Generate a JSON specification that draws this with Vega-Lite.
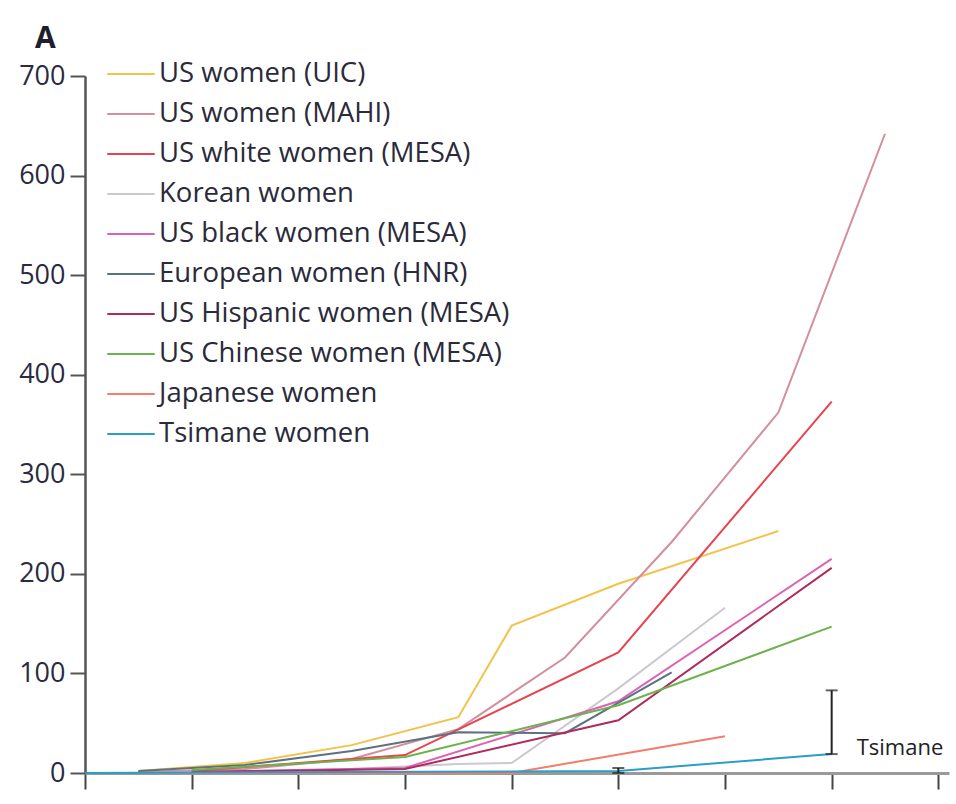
{
  "$schema": "https://vega.github.io/schema/vega-lite/v6.json",
  "autosize": {"type": "none"},
  "width": 864,
  "height": 697,
  "padding": {"left": 85, "top": 76, "right": 7, "bottom": 31},
  "background": "white",
  "title": {"text": "A", "anchor": "start", "frame": "group", "dx": -50, "offset": 0, "fontSize": 30, "fontWeight": "bold", "font": "Open Sans", "color": "#1e1e2e"},
  "config": {
    "view": {"stroke": null},
    "font": "Open Sans"
  },
  "datasets": {
    "lines": [
      {"series": "US women (UIC)", "age": 42.5, "cac": 2},
      {"series": "US women (UIC)", "age": 47.5, "cac": 10},
      {"series": "US women (UIC)", "age": 52.5, "cac": 28},
      {"series": "US women (UIC)", "age": 57.5, "cac": 56},
      {"series": "US women (UIC)", "age": 60, "cac": 148},
      {"series": "US women (UIC)", "age": 65, "cac": 190},
      {"series": "US women (UIC)", "age": 72.5, "cac": 243},
      {"series": "US women (MAHI)", "age": 42.5, "cac": 1},
      {"series": "US women (MAHI)", "age": 47.5, "cac": 4},
      {"series": "US women (MAHI)", "age": 52.5, "cac": 14},
      {"series": "US women (MAHI)", "age": 57.5, "cac": 44},
      {"series": "US women (MAHI)", "age": 62.5, "cac": 116},
      {"series": "US women (MAHI)", "age": 67.5, "cac": 232},
      {"series": "US women (MAHI)", "age": 72.5, "cac": 362},
      {"series": "US women (MAHI)", "age": 77.5, "cac": 642},
      {"series": "US white women (MESA)", "age": 45, "cac": 2},
      {"series": "US white women (MESA)", "age": 55, "cac": 18},
      {"series": "US white women (MESA)", "age": 65, "cac": 121},
      {"series": "US white women (MESA)", "age": 75, "cac": 373},
      {"series": "Korean women", "age": 42.5, "cac": 0},
      {"series": "Korean women", "age": 47.5, "cac": 1},
      {"series": "Korean women", "age": 52.5, "cac": 4},
      {"series": "Korean women", "age": 57.5, "cac": 9},
      {"series": "Korean women", "age": 60, "cac": 10},
      {"series": "Korean women", "age": 65, "cac": 85},
      {"series": "Korean women", "age": 70, "cac": 166},
      {"series": "US black women (MESA)", "age": 45, "cac": 1},
      {"series": "US black women (MESA)", "age": 55, "cac": 5},
      {"series": "US black women (MESA)", "age": 65, "cac": 72},
      {"series": "US black women (MESA)", "age": 75, "cac": 215},
      {"series": "European women (HNR)", "age": 42.5, "cac": 2},
      {"series": "European women (HNR)", "age": 47.5, "cac": 8},
      {"series": "European women (HNR)", "age": 52.5, "cac": 22},
      {"series": "European women (HNR)", "age": 57.5, "cac": 41},
      {"series": "European women (HNR)", "age": 62.5, "cac": 40},
      {"series": "European women (HNR)", "age": 67.5, "cac": 101},
      {"series": "US Hispanic women (MESA)", "age": 45, "cac": 1},
      {"series": "US Hispanic women (MESA)", "age": 55, "cac": 4},
      {"series": "US Hispanic women (MESA)", "age": 65, "cac": 53},
      {"series": "US Hispanic women (MESA)", "age": 75, "cac": 206},
      {"series": "US Chinese women (MESA)", "age": 45, "cac": 3},
      {"series": "US Chinese women (MESA)", "age": 55, "cac": 16},
      {"series": "US Chinese women (MESA)", "age": 65, "cac": 68},
      {"series": "US Chinese women (MESA)", "age": 75, "cac": 147},
      {"series": "Japanese women", "age": 42.5, "cac": 0},
      {"series": "Japanese women", "age": 52.5, "cac": 0},
      {"series": "Japanese women", "age": 60, "cac": 0},
      {"series": "Japanese women", "age": 70, "cac": 37},
      {"series": "Tsimane women", "age": 40, "cac": 0},
      {"series": "Tsimane women", "age": 65, "cac": 2},
      {"series": "Tsimane women", "age": 75, "cac": 19}
    ],
    "errs": [
      {"age": 65, "lo": 0, "hi": 5},
      {"age": 75, "lo": 19, "hi": 83}
    ],
    "labels": [
      {"age": 75, "cac": 19, "text": "Tsimane"}
    ]
  },
  "layer": [
    {
      "data": {"name": "lines"},
      "mark": {"type": "line", "strokeWidth": 2},
      "encoding": {
        "x": {
          "field": "age", "type": "quantitative",
          "scale": {"domain": [40, 80.5], "nice": false, "zero": false},
          "axis": {
            "title": null, "labels": false, "grid": false,
            "values": [40, 45, 50, 55, 60, 65, 70, 75, 80],
            "domainColor": "#9a9a9a", "domainWidth": 3,
            "tickColor": "#444444", "tickWidth": 2, "tickSize": 16
          }
        },
        "y": {
          "field": "cac", "type": "quantitative",
          "scale": {"domain": [0, 700], "nice": false},
          "axis": {
            "title": null, "grid": false,
            "values": [0, 100, 200, 300, 400, 500, 600, 700],
            "domainColor": "#555555", "domainWidth": 2.5,
            "tickColor": "#555555", "tickWidth": 2, "tickSize": 15,
            "labelFontSize": 27, "labelColor": "#2a2a40", "labelPadding": 5, "labelFont": "Open Sans"
          }
        },
        "color": {
          "field": "series", "type": "nominal",
          "scale": {
            "domain": ["US women (UIC)", "US women (MAHI)", "US white women (MESA)", "Korean women", "US black women (MESA)", "European women (HNR)", "US Hispanic women (MESA)", "US Chinese women (MESA)", "Japanese women", "Tsimane women"],
            "range": ["#f2c24a", "#d48e9c", "#e8434e", "#c9c9cf", "#dd62b6", "#5d7281", "#b02a5e", "#6cb24e", "#f27d6e", "#2a9ec4"]
          },
          "legend": {
            "title": null, "orient": "none", "legendX": 26, "legendY": -22,
            "symbolType": "M-1.25,0H1.25", "symbolSize": 1444, "symbolStrokeWidth": 2,
            "rowPadding": 6, "padding": 0, "labelOffset": 8,
            "labelFontSize": 27.5, "labelColor": "#2a2a3a", "labelFont": "Open Sans", "labelLimit": 500
          }
        },
        "strokeWidth": {
          "condition": {"test": "datum.series === 'Tsimane women'", "value": 3.5},
          "value": 2
        },
        "order": {"field": "age", "type": "quantitative"}
      }
    },
    {
      "data": {"name": "errs"},
      "mark": {"type": "errorbar", "ticks": {"size": 12, "thickness": 2, "color": "#222222"}, "rule": {"strokeWidth": 2, "color": "#222222"}},
      "encoding": {
        "x": {"field": "age", "type": "quantitative"},
        "y": {"field": "lo", "type": "quantitative"},
        "y2": {"field": "hi"}
      }
    },
    {
      "data": {"name": "labels"},
      "mark": {"type": "text", "align": "left", "baseline": "middle", "dx": 25, "dy": -6, "fontSize": 22, "color": "#222222", "font": "Open Sans"},
      "encoding": {
        "x": {"field": "age", "type": "quantitative"},
        "y": {"field": "cac", "type": "quantitative"},
        "text": {"field": "text"}
      }
    }
  ]
}
